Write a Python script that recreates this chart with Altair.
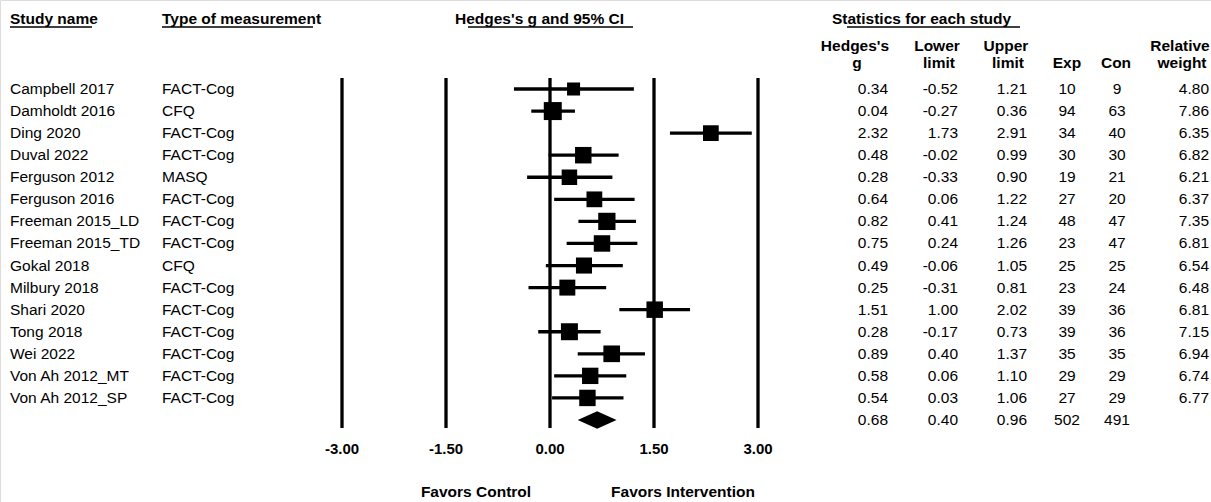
import altair as alt
import pandas as pd

studies = ["Campbell 2017", "Damholdt 2016", "Ding 2020", "Duval 2022", "Ferguson 2012",
           "Ferguson 2016", "Freeman 2015_LD", "Freeman 2015_TD", "Gokal 2018", "Milbury 2018",
           "Shari 2020", "Tong 2018", "Wei 2022", "Von Ah 2012_MT", "Von Ah 2012_SP"]
measures = ["FACT-Cog", "CFQ", "FACT-Cog", "FACT-Cog", "MASQ", "FACT-Cog", "FACT-Cog", "FACT-Cog",
            "CFQ", "FACT-Cog", "FACT-Cog", "FACT-Cog", "FACT-Cog", "FACT-Cog", "FACT-Cog"]
hedges_g = [0.34, 0.04, 2.32, 0.48, 0.28, 0.64, 0.82, 0.75, 0.49, 0.25, 1.51, 0.28, 0.89, 0.58, 0.54]
lower = [-0.52, -0.27, 1.73, -0.02, -0.33, 0.06, 0.41, 0.24, -0.06, -0.31, 1.00, -0.17, 0.40, 0.06, 0.03]
upper = [1.21, 0.36, 2.91, 0.99, 0.90, 1.22, 1.24, 1.26, 1.05, 0.81, 2.02, 0.73, 1.37, 1.10, 1.06]
n_exp = [10, 94, 34, 30, 19, 27, 48, 23, 25, 23, 39, 39, 35, 29, 27]
n_con = [9, 63, 40, 30, 21, 20, 47, 47, 25, 24, 36, 36, 35, 29, 29]
rel_weight = [4.80, 7.86, 6.35, 6.82, 6.21, 6.37, 7.35, 6.81, 6.54, 6.48, 6.81, 7.15, 6.94, 6.74, 6.77]

summary_g = 0.68
summary_lower = 0.40
summary_upper = 0.96
summary_exp = 502
summary_con = 491

ticks = [-3.0, -1.5, 0.0, 1.5, 3.0]

FONT = "Liberation Sans"
FS = 15.5

n = len(studies)
df = pd.DataFrame({
    "row": list(range(n)),
    "study": studies,
    "measure": measures,
    "g": hedges_g,
    "lo": lower,
    "hi": upper,
    "exp": n_exp,
    "con": n_con,
    "w": rel_weight,
})
df["g_s"] = [f"{v:.2f}" for v in df["g"]]
df["lo_s"] = [f"{v:.2f}" for v in df["lo"]]
df["hi_s"] = [f"{v:.2f}" for v in df["hi"]]
df["exp_s"] = [str(v) for v in df["exp"]]
df["con_s"] = [str(v) for v in df["con"]]
df["w_s"] = [f"{v:.2f}" for v in df["w"]]

srow = n
sdf = pd.DataFrame({
    "row": [srow],
    "g_s": [f"{summary_g:.2f}"],
    "lo_s": [f"{summary_lower:.2f}"],
    "hi_s": [f"{summary_upper:.2f}"],
    "exp_s": [str(summary_exp)],
    "con_s": [str(summary_con)],
})

diamond = pd.DataFrame({
    "x": [summary_lower, summary_g, summary_upper],
    "y1": [srow, srow - 0.4, srow],
    "y2": [srow, srow + 0.4, srow],
})

tdf = pd.DataFrame({"t": ticks, "lab": [f"{v:.2f}" for v in ticks]})

xscale = alt.Scale(domain=[-3, 3], range=[342, 758], zero=False, nice=False)
yscale = alt.Scale(domain=[0, 15], range=[89, 420], zero=False, nice=False)

base = alt.Chart(df)

def col_text(data, field, x, align):
    return alt.Chart(data).mark_text(
        align=align, baseline="middle", font=FONT, fontSize=FS, color="black"
    ).encode(
        x=alt.value(x),
        y=alt.Y("row:Q", scale=yscale, axis=None),
        text=alt.Text(f"{field}:N"),
    )

def label(text, x, y, align="left", bold=True, size=FS):
    return alt.Chart(pd.DataFrame({"s": [text]})).mark_text(
        align=align, baseline="middle", font=FONT, fontSize=size,
        fontWeight="bold" if bold else "normal", color="black"
    ).encode(x=alt.value(x), y=alt.value(y), text="s:N")

def uline(x1, x2, y):
    return alt.Chart(pd.DataFrame({"k": [0]})).mark_rule(color="black", strokeWidth=1.5).encode(
        x=alt.value(x1), x2=alt.value(x2), y=alt.value(y)
    )

vlines = alt.Chart(tdf).mark_rule(color="black", strokeWidth=3.3).encode(
    x=alt.X("t:Q", scale=xscale, axis=None),
    y=alt.value(78), y2=alt.value(428),
)
tick_labels = alt.Chart(tdf).mark_text(
    font=FONT, fontSize=15, fontWeight="bold", baseline="middle", align="center", color="black"
).encode(
    x=alt.X("t:Q", scale=xscale, axis=None),
    y=alt.value(449),
    text="lab:N",
)

ci = base.mark_rule(color="black", strokeWidth=3.3).encode(
    x=alt.X("lo:Q", scale=xscale, axis=None),
    x2="hi:Q",
    y=alt.Y("row:Q", scale=yscale, axis=None),
)
squares = base.mark_square(color="black", filled=True, opacity=1).encode(
    x=alt.X("g:Q", scale=xscale, axis=None),
    y=alt.Y("row:Q", scale=yscale, axis=None),
    size=alt.Size("w:Q", scale=alt.Scale(domain=[4.8, 7.86], range=[170, 324]), legend=None),
)
dia = alt.Chart(diamond).mark_area(color="black").encode(
    x=alt.X("x:Q", scale=xscale, axis=None),
    y=alt.Y("y1:Q", scale=yscale, axis=None),
    y2="y2:Q",
)

layers = [
    vlines, tick_labels, ci, squares, dia,
    col_text(df, "study", 10, "left"),
    col_text(df, "measure", 162, "left"),
    col_text(df, "g_s", 888, "right"),
    col_text(df, "lo_s", 958, "right"),
    col_text(df, "hi_s", 1027, "right"),
    col_text(df, "exp_s", 1067, "center"),
    col_text(df, "con_s", 1117, "center"),
    col_text(df, "w_s", 1209, "right"),
    col_text(sdf, "g_s", 888, "right"),
    col_text(sdf, "lo_s", 958, "right"),
    col_text(sdf, "hi_s", 1027, "right"),
    col_text(sdf, "exp_s", 1067, "center"),
    col_text(sdf, "con_s", 1117, "center"),
    # headers
    label("Study name", 10, 19),
    label("Type of measurement", 162, 19),
    label("Hedges's g and 95% CI", 455, 19),
    label("Statistics for each study", 832, 19),
    uline(10, 92, 27), uline(162, 313, 27), uline(468, 633, 27), uline(847, 1020, 27),
    label("Hedges's", 855, 46, "center"),
    label("g", 857, 63, "center"),
    label("Lower", 937, 46, "center"),
    label("limit", 939, 63, "center"),
    label("Upper", 1006, 46, "center"),
    label("limit", 1008, 63, "center"),
    label("Exp", 1067, 63, "center"),
    label("Con", 1116, 63, "center"),
    label("Relative", 1180, 46, "center"),
    label("weight", 1182, 63, "center"),
    label("Favors Control", 476, 492, "center"),
    label("Favors Intervention", 683, 492, "center"),
]

chart = alt.layer(*layers).properties(
    width=1211, height=502, padding=0,
    autosize=alt.AutoSizeParams(type="none"),
).configure_view(stroke=None).configure(background="white")

chart.save("out.html", embed_options={"renderer": "svg", "actions": False})
